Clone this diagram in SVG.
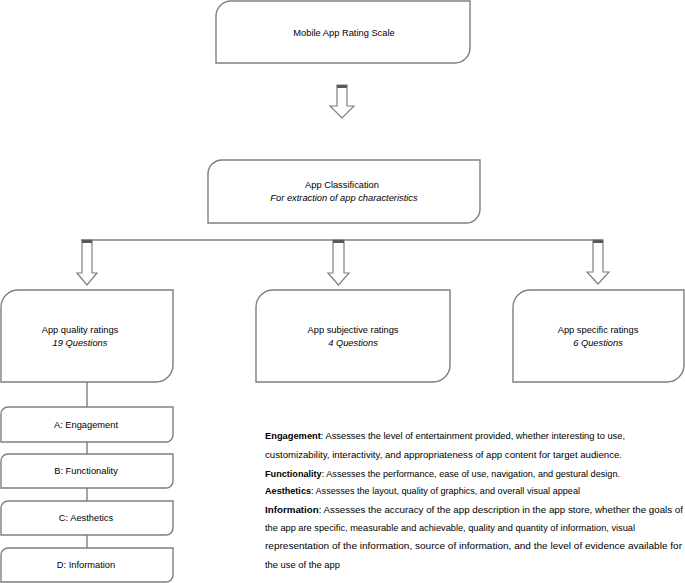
<svg xmlns="http://www.w3.org/2000/svg" width="685" height="583" viewBox="0 0 685 583">
<style>
.box{fill:#ffffff;stroke:#7f7f7f;stroke-width:1.4}
.ln{fill:none;stroke:#7f7f7f;stroke-width:1.4}
.arr{fill:#ffffff;stroke:#7f7f7f;stroke-width:1.2}
.cap{fill:#595959}
.t{font-family:"Liberation Sans",Arial,sans-serif;font-size:9.3px;fill:#000;text-anchor:middle}
.i{font-style:italic}
.d{font-family:"Liberation Sans",Arial,sans-serif;font-size:9px;fill:#000}
.b{font-weight:bold}
</style>
<rect width="685" height="583" fill="#ffffff"/>
<g id="connectors">
<path class="ln" d="M81,240 H603"/>
<path class="ln" d="M87,382 V407 M87,442 V454 M87,488 V501 M87,535 V548"/>
<g id="arrow-top">
<path class="arr" d="M337,85 H347 V106 H354 L342,118 L330,106 H337 Z"/>
<rect class="cap" x="337" y="85" width="10" height="3"/>
</g>
<g id="arrow-left">
<path class="arr" d="M82,240 H92 V273 H97 L87,285 L77,273 H82 Z"/>
<rect class="cap" x="82" y="240" width="10" height="3"/>
</g>
<g id="arrow-mid">
<path class="arr" d="M333,240 H344 V273 H349 L338.5,285 L328,273 H333 Z"/>
<rect class="cap" x="333" y="240" width="11" height="3"/>
</g>
<g id="arrow-right">
<path class="arr" d="M593,240 H603 V272 H609 L598,284 L587,272 H593 Z"/>
<rect class="cap" x="593" y="240" width="10" height="3"/>
</g>
</g>
<g id="node-mars">
<path class="box" d="M231,1 H470 V48 A15,15 0 0 1 455,63 H216 V16 A15,15 0 0 1 231,1 Z"/>
<text class="t" x="344" y="36">Mobile App Rating Scale</text>
</g>
<g id="node-classification">
<path class="box" d="M222,160 H480 V209 A14,14 0 0 1 466,223 H208 V174 A14,14 0 0 1 222,160 Z"/>
<text class="t" x="342" y="188">App Classification</text>
<text class="t i" x="344" y="201">For extraction of app characteristics</text>
</g>
<g id="node-quality">
<path class="box" d="M18,290 H173 V365 A17,17 0 0 1 156,382 H1 V307 A17,17 0 0 1 18,290 Z"/>
<text class="t" x="80" y="333">App quality ratings</text>
<text class="t i" x="80" y="346">19 Questions</text>
</g>
<g id="node-subjective">
<path class="box" d="M273,290 H450 V365 A17,17 0 0 1 433,382 H256 V307 A17,17 0 0 1 273,290 Z"/>
<text class="t" x="353" y="333">App subjective ratings</text>
<text class="t i" x="353" y="346">4 Questions</text>
</g>
<g id="node-specific">
<path class="box" d="M530,290 H684 V365 A17,17 0 0 1 667,382 H513 V307 A17,17 0 0 1 530,290 Z"/>
<text class="t" x="598" y="333">App specific ratings</text>
<text class="t i" x="598" y="346">6 Questions</text>
</g>
<g id="node-engagement">
<path class="box" d="M8,407 H173 V435 A7,7 0 0 1 166,442 H1 V414 A7,7 0 0 1 8,407 Z"/>
<text class="t" x="86" y="428">A: Engagement</text>
</g>
<g id="node-functionality">
<path class="box" d="M8,454 H173 V481 A7,7 0 0 1 166,488 H1 V461 A7,7 0 0 1 8,454 Z"/>
<text class="t" x="86" y="474">B: Functionality</text>
</g>
<g id="node-aesthetics">
<path class="box" d="M8,501 H173 V528 A7,7 0 0 1 166,535 H1 V508 A7,7 0 0 1 8,501 Z"/>
<text class="t" x="86" y="521">C: Aesthetics</text>
</g>
<g id="node-information">
<path class="box" d="M8,548 H173 V575 A7,7 0 0 1 166,582 H1 V555 A7,7 0 0 1 8,548 Z"/>
<text class="t" x="86" y="568">D: Information</text>
</g>
<g id="descriptions">
<text class="d" x="265" y="439" textLength="360" lengthAdjust="spacingAndGlyphs"><tspan class="b">Engagement</tspan>: Assesses the level of entertainment provided, whether interesting to use,</text>
<text class="d" x="265" y="458" textLength="357" lengthAdjust="spacingAndGlyphs">customizability, interactivity, and appropriateness of app content for target audience.</text>
<text class="d" x="265" y="477" textLength="355" lengthAdjust="spacingAndGlyphs"><tspan class="b">Functionality</tspan>: Assesses the performance, ease of use, navigation, and gestural design.</text>
<text class="d" x="265" y="494" textLength="315" lengthAdjust="spacingAndGlyphs"><tspan class="b">Aesthetics</tspan>: Assesses the layout, quality of graphics, and overall visual appeal</text>
<text class="d" x="265" y="513" textLength="418" lengthAdjust="spacingAndGlyphs"><tspan class="b">Information</tspan>: Assesses the accuracy of the app description in the app store, whether the goals of</text>
<text class="d" x="265" y="531" textLength="370" lengthAdjust="spacingAndGlyphs">the app are specific, measurable and achievable, quality and quantity of information, visual</text>
<text class="d" x="265" y="549" textLength="417" lengthAdjust="spacingAndGlyphs">representation of the information, source of information, and the level of evidence available for</text>
<text class="d" x="265" y="568" textLength="75" lengthAdjust="spacingAndGlyphs">the use of the app</text>
</g>
</svg>
